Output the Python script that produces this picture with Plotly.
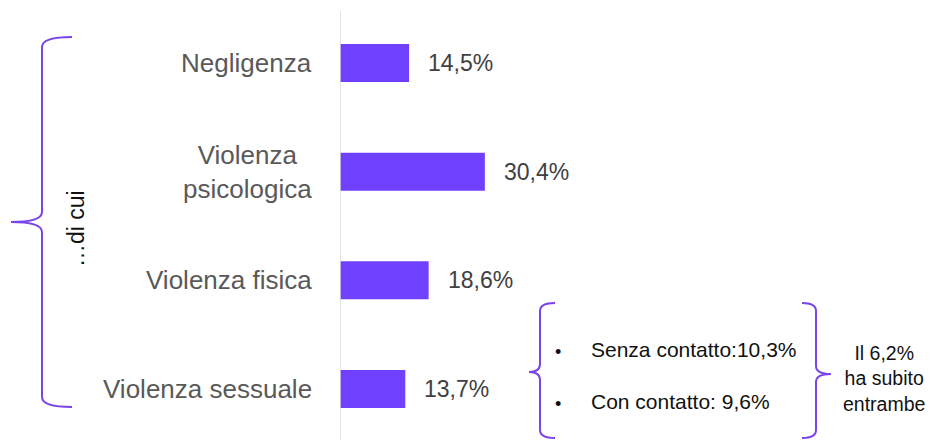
import plotly.graph_objects as go

# ---- data ----
categories = ["Negligenza", "Violenza psicologica", "Violenza fisica", "Violenza sessuale"]
category_labels = ["Negligenza", "Violenza<br>psicologica", "Violenza fisica", "Violenza sessuale"]
values = [14.5, 30.4, 18.6, 13.7]
sub_labels = ["Senza contatto:", "Con contatto: "]
sub_values = [10.3, 9.6]
both_value = 6.2
group_label = "…di cui"

OFF = 8  # page body margin
W, H = 935 - OFF, 440 - OFF
FONT = "Arial, Liberation Sans, sans-serif"
BAR = "#7040FF"
BRACE = "#7A45E8"


def fmt(v):
    return f"{v:.1f}".replace(".", ",") + "%"


def px(x):
    return (x - OFF) / W


def py(y):
    return 1 - (y - OFF) / H


def path(cmds):
    out = []
    for c in cmds:
        if isinstance(c, str):
            out.append(c)
        else:
            out.append(f"{px(c[0]):.5f},{py(c[1]):.5f}")
    return " ".join(out)


fig = go.Figure()
fig.add_trace(go.Bar(
    x=values, y=categories, orientation="h",
    marker=dict(color=BAR, line=dict(width=0)),
    width=0.35, hoverinfo="skip",
))

annotations = []
for cat, lab, v in zip(categories, category_labels, values):
    annotations.append(dict(
        x=v, y=cat, xref="x", yref="y", text=fmt(v), showarrow=False,
        xanchor="left", yanchor="middle", xshift=17,
        font=dict(family=FONT, size=23, color="#404040"),
    ))
    annotations.append(dict(
        x=px(314), y=cat, xref="paper", yref="y", text=lab, showarrow=False,
        xanchor="right", yanchor="middle", align="center",
        font=dict(family=FONT, size=26, color="#595959"),
    ))

# group label
annotations.append(dict(
    x=px(76), y=py(229), xref="paper", yref="paper", text=group_label, showarrow=False,
    textangle=-90, xanchor="center", yanchor="middle",
    font=dict(family=FONT, size=23, color="#111111"),
))

# sub-breakdown
for lbl, v, yy in zip(sub_labels, sub_values, [349, 401]):
    annotations.append(dict(
        x=px(558), y=py(yy + 3), xref="paper", yref="paper", text="•", showarrow=False,
        xanchor="center", yanchor="middle", font=dict(family=FONT, size=18, color="#111111"),
    ))
    annotations.append(dict(
        x=px(589), y=py(yy), xref="paper", yref="paper", text=lbl.replace(" ", "\u00a0") + fmt(v),
        showarrow=False, xanchor="left", yanchor="middle",
        font=dict(family=FONT, size=21, color="#111111"),
    ))

annotations.append(dict(
    x=px(884), y=py(378), xref="paper", yref="paper",
    text=f"Il {fmt(both_value)}<br>ha subito<br>entrambe",
    showarrow=False, xanchor="center", yanchor="middle", align="center",
    font=dict(family=FONT, size=19.5, color="#111111"),
))

shapes = [
    dict(type="line", xref="x", yref="paper", x0=0, x1=0, y0=0, y1=py(11),
         line=dict(color="#d9d9d9", width=1.5)),
    dict(type="path", xref="paper", yref="paper", line=dict(color=BRACE, width=2),
         path=path(["M", (72, 37), "Q", (42, 37), (42, 47), "L", (42, 212), "Q", (42, 222), (11, 222),
                    "Q", (42, 222), (42, 232), "L", (42, 397), "Q", (42, 407), (72, 407)])),
    dict(type="path", xref="paper", yref="paper", line=dict(color=BRACE, width=2),
         path=path(["M", (555, 303), "Q", (540, 303), (540, 311), "L", (540, 364), "Q", (540, 372), (529, 372),
                    "Q", (540, 372), (540, 380), "L", (540, 430), "Q", (540, 438), (555, 438)])),
    dict(type="path", xref="paper", yref="paper", line=dict(color=BRACE, width=2),
         path=path(["M", (802, 303), "Q", (816, 303), (816, 311), "L", (816, 366), "Q", (816, 374), (831, 374),
                    "Q", (816, 374), (816, 382), "L", (816, 430), "Q", (816, 438), (802, 438)])),
]

fig.update_layout(
    width=W, height=H, margin=dict(l=0, r=0, t=0, b=0),
    paper_bgcolor="white", plot_bgcolor="white", showlegend=False,
    xaxis=dict(domain=[px(340), 1], range=[0, (W * (1 - px(340))) / 4.765], visible=False, fixedrange=True),
    yaxis=dict(type="category", range=[(440 - 63) / 108.67, (OFF - 63) / 108.67], showticklabels=False,
               showgrid=False, zeroline=False, showline=False, ticks="", fixedrange=True),
    annotations=annotations, shapes=shapes,
)

fig.write_html("out.html", config={"displayModeBar": False})
